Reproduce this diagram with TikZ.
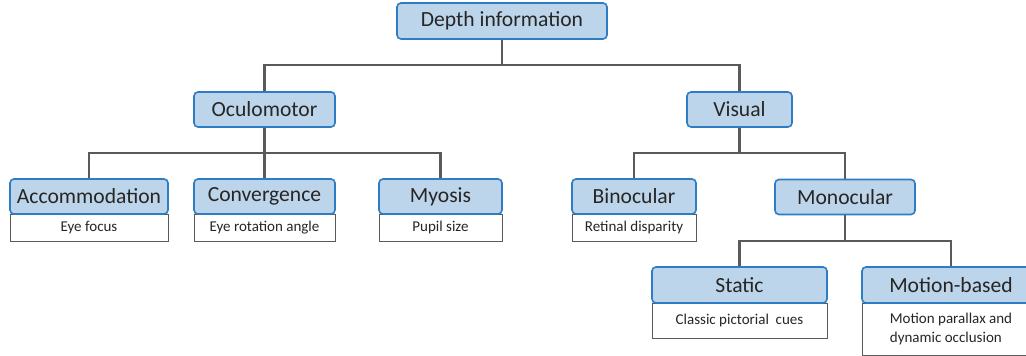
\documentclass[tikz,border=0pt]{standalone}
\usepackage{fontspec}
\setmainfont{Carlito}
\usepackage{tikz}
\usepackage{xcolor}

\definecolor{boxblue}{HTML}{2E7CC4}
\definecolor{boxfill}{HTML}{BDD5EA}
\definecolor{linegray}{HTML}{5A5A5A}
\definecolor{textgray}{HTML}{262626}

\tikzset{
  cat/.style={draw=boxblue, fill=boxfill, rounded corners=2pt, line width=0.8pt, inner sep=0pt,
    minimum height=17.5pt, text=textgray, font=\fontsize{10.8}{12}\selectfont},
  desc/.style={draw=linegray, fill=white, line width=0.5pt, inner sep=0pt, anchor=north,
    text=textgray, font=\fontsize{7.5}{9.5}\selectfont},
  link/.style={draw=linegray, line width=1.1pt}
}

\begin{document}
\begin{tikzpicture}[x=0.5pt, y=-0.5pt]
  \useasboundingbox (0,0) rectangle (1026,356);

  % descriptions below the leaves
  \node[desc, minimum width=79pt, minimum height=13.5pt] (accd) at (89,214) {Eye focus};
  \node[desc, minimum width=70.5pt, minimum height=13.5pt] (convd) at (264.5,214) {Eye rotation angle};
  \node[desc, minimum width=61.5pt, minimum height=13.5pt] (myod) at (440.5,214) {Pupil size};
  \node[desc, minimum width=62pt, minimum height=13.5pt] (binod) at (634,214) {Retinal disparity};
  \node[desc, minimum width=87.5pt, minimum height=17.5pt] (statd) at (739.5,303) {Classic pictorial~ cues};
  \node[desc, minimum width=89pt, minimum height=26pt, align=left] (motiond) at (951,303) {Motion parallax and\\dynamic occlusion};

  % category boxes
  \node[cat, minimum width=105pt, minimum height=18pt] (root) at (502,21) {Depth information};
  \node[cat, minimum width=70.5pt] (ocu) at (264.5,109.5) {Oculomotor};
  \node[cat, minimum width=52.5pt] (vis) at (739.5,109.5) {Visual};
  \node[cat, minimum width=79pt] (acc) at (89,196.5) {Accommodation};
  \node[cat, minimum width=70.5pt] (conv) at (264.5,196.5) {Convergence};
  \node[cat, minimum width=61.5pt] (myo) at (440.5,196.5) {Myosis};
  \node[cat, minimum width=62pt] (bino) at (634,196.5) {Binocular};
  \node[cat, minimum width=70pt] (mono) at (845,197) {Monocular};
  \node[cat, minimum width=87.5pt, minimum height=18pt] (stat) at (739.5,285) {Static};
  \node[cat, minimum width=89pt, minimum height=18pt] (motion) at (951,285) {Motion-based};

  % junctions
  \coordinate (j0) at (502,65);
  \coordinate (j1) at (264.5,153);
  \coordinate (j2) at (739.5,153);
  \coordinate (j3) at (845,241);

  \draw[link] (root.south) -- (j0);
  \draw[link] (ocu.north) |- (j0) -| (vis.north);

  \draw[link] (ocu.south) -- (j1);
  \draw[link] (acc.north) |- (j1) -| (myo.north);
  \draw[link] (conv.north) -- (j1);

  \draw[link] (vis.south) -- (j2);
  \draw[link] (bino.north) |- (j2) -| (mono.north);

  \draw[link] (mono.south) -- (j3);
  \draw[link] (stat.north) |- (j3) -| (motion.north);
\end{tikzpicture}
\end{document}
